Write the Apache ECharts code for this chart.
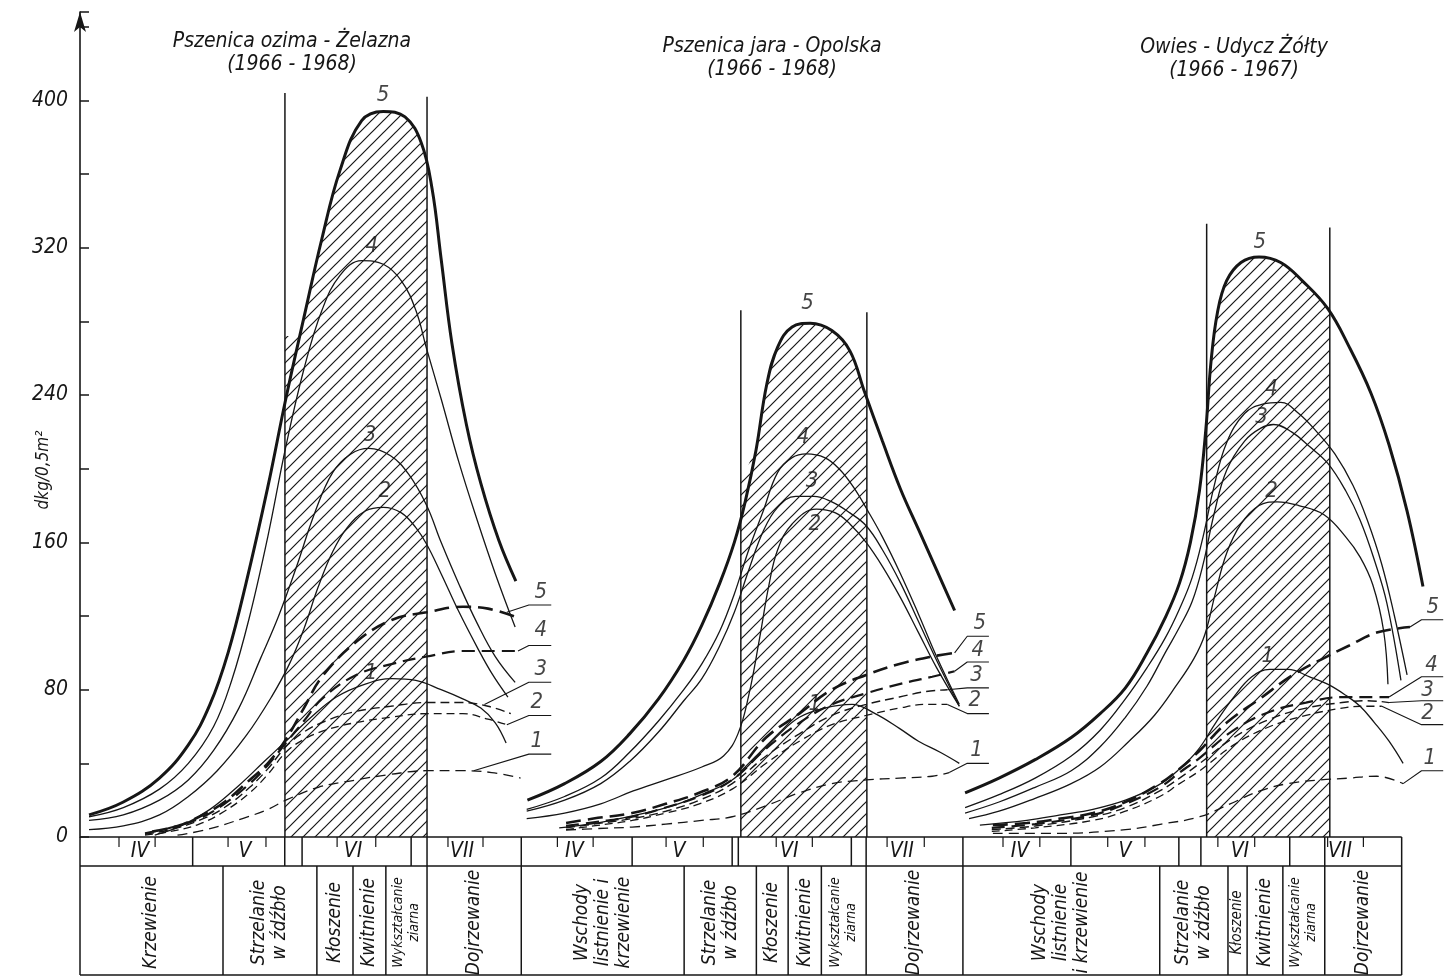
<!DOCTYPE html>
<html>
<head>
<meta charset="utf-8">
<script src="https://cdn.jsdelivr.net/npm/echarts@6/dist/echarts.min.js"></script>
<style>
html, body { margin: 0; padding: 0; background: #fff; }
#chart { width: 1450px; height: 977px; }
</style>
</head>
<body>
<div id="chart"></div>
<script>
// day axis: 1 = 1 April; each panel covers IV-VII and is shifted along one shared axis
const panelOffsets = [0, 122.2, 244.5]
const panelEnds = [122.2, 122.3, 121.5]
const tableEnd = 366

// ---- Pszenica ozima - Zelazna ----
const p1S5 = [[2.5,12],[12,19],[22,32],[30,50],[36,72],[41,100],[46,138],[52,190],[57,238],[62,282],[67,325],[72,362],[78,389],[84,394],[90,391],[94.5,377],[97.5,352],[100,314],[103,268],[107,224],[111,192],[116,161],[120.7,139]]
const p1S4 = [[2.5,11],[12,16],[22,26],[30,40],[37,60],[42,85],[47,120],[52,163],[57,212],[62,254],[67,286],[72,305],[78,313],[84,311],[89,302],[93,286],[96,265],[100,238],[105,203],[110,172],[115,143],[120.5,114]]
const p1S3 = [[2.5,9],[12,12],[22,20],[30,31],[37,47],[44,70],[50,97],[55,120],[60,147],[65,176],[70,198],[75,208],[80,211],[86,207],[91,197],[96,180],[100,160],[105,137],[110,116],[115,98],[120.5,84]]
const p1S2 = [[2.5,4],[12,6],[22,12],[30,22],[38,36],[46,55],[53,76],[58,94],[62,113],[66,136],[70,155],[74,168],[79,177],[84,179],[89,176],[93,168],[96,159],[100,143],[105,122],[110,103],[114,89],[118.5,76]]
const p1S1 = [[20.7,1],[28,6],[36,15],[44,28],[51,41],[57,52],[64,65],[71,76],[79,83],[86.5,86],[93,85],[100,80],[106,75],[111,70],[115,62],[118,51]]
const p1D5 = [[20,3],[27,6],[33,11],[40,19],[47,31],[52,40],[57,53],[62,70],[67,87],[76.5,106],[86.5,118],[96,122],[106,125],[113,124],[121.3,119]]
const p1D4 = [[18,2],[25,5],[33,10],[40,18],[47,29],[52,39],[57,51],[62,63],[67,75],[76.5,88],[86.5,94],[96,98],[106,101],[114,101],[121.3,101]]
const p1D3 = [[18,1.5],[25,4],[33,9],[40,16],[47,27],[52,37],[57,49],[62,57],[68,63],[76,68],[86,71],[96,73],[106,73],[113,71],[119.3,67]]
const p1D2 = [[18,1],[25,3],[33,7],[40,14],[47,24],[52,34],[57,46],[62,53],[68,58],[76,62],[86,65],[96,67],[106,67],[113,64],[118.2,61]]
const p1D1 = [[27,1],[35,4],[45,10],[52,15],[57,20],[66,27],[76.5,31],[86,34],[96,36],[106,36],[114,35],[122,32]]
const p1Hatch = [[56.75,272],[59.5,272],[62,282],[67,325],[72,362],[78,389],[84,394],[90,391],[94.5,377],[96.1,366]]
const p1Bounds = [[56.75,404],[96.1,402]]
const p1Labels = [[83.9,403,'5'],[80.8,321,'4'],[80.3,218,'3'],[84.4,188,'2'],[80.6,89,'1'],
  [127.6,133,'5'],[127.6,112,'4'],[127.6,91,'3'],[126.5,73,'2'],[126.5,52,'1']]
const p1Leaders = [[[118.2,122],[124.3,126],[130.5,126]],[[121.3,101],[124.3,104],[130.5,104]],
  [[112,72],[124.3,84],[130.5,84]],[[118.2,61],[124.3,66],[130.5,66]],[[109,36],[124.3,45],[130.5,45]]]

// ---- Pszenica jara - Opolska ----
const p2S5 = [[1.7,20],[12,29],[22,41],[30,56],[38,75],[45,96],[50,115],[55,138],[59,160],[62,182],[65,210],[68,246],[71,266],[75,277],[80,279],[86,275],[91,264],[95,242],[100,215],[105,189],[110,167],[115,145],[120,123]]
const p2S4 = [[1.5,15],[12,22],[22,32],[30,46],[38,63],[45,80],[50,94],[55,112],[59,132],[63,156],[67,177],[71,198],[75,206],[79,208],[84,206],[88,200],[92,190],[96,177],[100,163],[105,143],[110,121],[115,98],[121.3,72]]
const p2S3 = [[1.5,14],[12,20],[22,29],[30,41],[38,57],[45,74],[50,86],[55,104],[59,122],[63,145],[67,166],[71,179],[76,185],[81,185],[86,182],[91,176],[95.5,169],[100,156],[105,138],[110,117],[115,96],[121.3,71]]
const p2S2 = [[1.5,10],[12,13],[22,18],[31,25],[40,31],[50,38],[56,44],[60,56],[63,77],[66,108],[68.5,136],[71,156],[75,170],[81.7,178],[87,176],[91,170],[95.5,160],[100,147],[105,130],[110,111],[115,92],[121.3,71]]
const p2S1 = [[10.5,5],[22,8],[32,12],[42,17],[51,24],[58.4,31],[65,43],[71,55],[77,65],[84,70],[91.6,72],[98,67],[104.7,59],[110,52],[116,46],[121.3,40]]
const p2D5 = [[12.4,7.6],[20,10],[30.7,13],[40,18],[49.3,24],[58.4,33],[67.8,54],[77,67],[86,80],[95.5,88],[104.7,94],[113.8,98],[120,100]]
const p2D4 = [[12.4,6],[20,8],[30.7,11],[40,16],[49.3,22],[58.4,31],[67.8,48],[77,62],[86,72],[95.5,78],[104.7,83],[113.8,87],[120,90]]
const p2D3 = [[12.4,5],[20,7],[30.7,10],[40,14],[49.3,20],[58.4,29],[67.8,44],[77,56],[86,66],[95.5,72],[104.7,76],[112,79],[118,80]]
const p2D2 = [[12.4,4],[20,6],[30.7,9],[40,13],[49.3,18],[58.4,26],[67.8,40],[77,52],[86,61],[95.5,66],[104.7,70],[112,72],[118,72]]
const p2D1 = [[12.4,3.8],[20,4.5],[30.7,5.4],[40,7],[50,9],[58.4,11],[67.8,17],[77,24],[86,29],[95.5,31],[104.7,32],[113.8,33],[118.5,35]]
const p2Hatch = [[60.8,194],[65.5,215],[68,246],[71,266],[75,277],[80,279],[86,275],[91,264],[95,242],[95.7,238]]
const p2Bounds = [[60.8,286],[95.7,285]]
const p2Labels = [[79.3,290,'5'],[78,217,'4'],[80.5,193,'3'],[81.3,170,'2'],[81.3,72,'1'],
  [127,116,'5'],[126.4,101.6,'4'],[126.1,88,'3'],[125.6,74.3,'2'],[126.1,47,'1']]
const p2Leaders = [[[120,100],[123.5,109],[129.5,109]],[[120,90],[123.5,95],[129.5,95]],
  [[118,80],[123.5,81],[129.5,81]],[[118,72],[123.5,67],[129.5,67]],[[118.5,35],[123.5,40],[129.5,40]]]

// ---- Owies - Udycz ----
const p3S5 = [[0.6,24],[10,32],[20,42],[30,54],[38,67],[45,81],[51,100],[56,119],[60,138],[63,160],[65.5,188],[67.3,222],[68.7,258],[70.5,285],[73,302],[77,312],[82,315],[88,312],[94,302],[101,287],[107,266],[113,241],[118,213],[123,177],[127.4,136]]
const p3S4 = [[0.6,16],[10,23],[20,32],[30,44],[38,58],[45,75],[51,92],[56,108],[60,124],[63.5,141],[66.5,163],[69.5,190],[73,214],[78,230],[83,235],[88,236],[93,230],[98,220],[103,208],[108,191],[112,172],[116,148],[119.5,120],[123,88]]
const p3S3 = [[0.6,13],[10,19],[20,27],[30,36],[38,49],[45,65],[51,82],[56,100],[60,114],[63.5,128],[66.5,148],[69.5,175],[73,199],[78,215],[82.5,222],[86,224],[91,220],[96,212],[101,203],[106,188],[110,172],[114,150],[117.4,127],[121.3,85]]
const p3S2 = [[1.7,10],[10,14],[20,21],[30,29],[38,38],[46,52],[53,66],[59,82],[64,97],[67,110],[70,133],[73,154],[77,170],[82,180],[87,182],[93,180],[100,175],[106,163],[110,152],[113.5,137],[116.5,112],[117.7,83]]
const p3S1 = [[4.7,6.5],[17.7,9],[27,12],[36,15],[45,20],[54,28],[60,37],[65,47],[70,62],[75,76],[80,87],[85,91],[90,91],[96,87],[101,83],[106,77],[110,71],[114,62],[118,52],[121.9,40]]
const p3D5 = [[8.3,6.5],[17.7,7.6],[27,10],[36,13],[45,19],[54.5,29],[60,37],[65.6,47],[73,62],[82.2,75],[91.4,88],[100.8,98],[107,104],[114.6,111],[123.8,114]]
const p3D4 = [[8,5],[20,7],[36,12],[45,18],[54.5,27],[60,35],[65.6,43],[75,58],[85,68],[95,73],[105,76],[112,76],[118,76]]
const p3D3 = [[8,4],[20,6],[36,11],[45,16],[54.5,25],[60,32],[65.6,40],[75,54],[85,64],[95,70],[105,73],[112,74],[118,73]]
const p3D2 = [[8,3],[20,5],[36,9],[45,14],[54.5,22],[60,29],[65.6,36],[75,50],[85,60],[95,66],[105,70],[111,71],[116,71]]
const p3D1 = [[8.3,2],[26.9,2],[45,4],[55,7],[65.6,11],[74,18],[82.2,25],[90,29],[99,31],[107,32],[114.6,33],[121.9,29]]
const p3Hatch = [[67.5,226],[68.7,258],[70.5,285],[73,302],[77,312],[82,315],[88,312],[94,302],[101,287],[101.6,285]]
const p3Bounds = [[67.5,333],[101.6,331]]
const p3Labels = [[82.2,323,'5'],[85.5,243,'4'],[82.7,228,'3'],[85.5,188,'2'],[84.4,98,'1'],
  [130.1,125,'5'],[129.8,93.4,'4'],[128.7,79.8,'3'],[128.7,67.3,'2'],[129.3,42.9,'1']]
const p3Leaders = [[[123.8,114],[127,118],[133,118]],[[118,76],[127,87],[133,87]],
  [[118,73],[127,74],[133,74]],[[116,71],[127,61],[133,61]],[[121.9,29],[127,36],[133,36]]]

// titles and table of months / growth phases
const titles = ['Pszenica ozima - Żelazna\n(1966 - 1968)', 'Pszenica jara - Opolska\n(1966 - 1968)', 'Owies - Udycz Żółty\n(1966 - 1967)']
const monthNames = ['IV', 'V', 'VI', 'VII']
const monthPos = [[16.6,45.7,75.6,105.8],[14.7,43.7,74.2,105.4],[15.8,44.9,76.7,104.4]]
const monthLines = [[0,31.2,56.7,61.5,91.7,96.1],[0,30.7,58.4,60.1,91.4,95.5],[0,29.9,59.8,65.9,90.5,100.2]]
const monthTicks = [[10.8,20.8,41,51.5,71.2,81.9,101.9,111.6],[10,19.9,40.1,50.4,70.6,80.6,101.3,111.6],[11.1,21.3,40.1,50.4,70.6,80.8,101,110.9]]
const phaseLines = [[0,39.6,65.6,75.6,84.7,96.1],[0,45.1,65.1,73.9,83.1,95.5],[0,54.5,73.4,78.7,88.6,100.2]]
const phaseNames = [
  ['Krzewienie', 'Strzelanie\nw źdźbło', 'Kłoszenie', 'Kwitnienie', 'Wykształcanie\nziarna', 'Dojrzewanie'],
  ['Wschody\nlistnienie i\nkrzewienie', 'Strzelanie\nw źdźbło', 'Kłoszenie', 'Kwitnienie', 'Wykształcanie\nziarna', 'Dojrzewanie'],
  ['Wschody\nlistnienie\ni krzewienie', 'Strzelanie\nw źdźbło', 'Kłoszenie', 'Kwitnienie', 'Wykształcanie\nziarna', 'Dojrzewanie']
]

const panels = [
  { solid: [p1S1, p1S2, p1S3, p1S4, p1S5], dashed: [p1D1, p1D2, p1D3, p1D4, p1D5], hatch: p1Hatch, bounds: p1Bounds, labels: p1Labels, leaders: p1Leaders },
  { solid: [p2S1, p2S2, p2S3, p2S4, p2S5], dashed: [p2D1, p2D2, p2D3, p2D4, p2D5], hatch: p2Hatch, bounds: p2Bounds, labels: p2Labels, leaders: p2Leaders },
  { solid: [p3S1, p3S2, p3S3, p3S4, p3S5], dashed: [p3D1, p3D2, p3D3, p3D4, p3D5], hatch: p3Hatch, bounds: p3Bounds, labels: p3Labels, leaders: p3Leaders }
]

const ink = '#161616'
const FONT = '"Liberation Sans Narrow", "DejaVu Sans Condensed", "Liberation Sans", sans-serif'
const SMOOTH = 0.4
const solidWidths = [1.3, 1.3, 1.3, 1.3, 3]
const dashedStyles = [
  { width: 1.3, type: [10, 6] },
  { width: 1.3, type: [8, 5] },
  { width: 1.4, type: [9, 5] },
  { width: 2.2, type: [13, 7] },
  { width: 2.6, type: [15, 7] }
]

// diagonal hatching pattern
function hatchPattern() {
  const c = document.createElement('canvas')
  c.width = 12; c.height = 12
  const g = c.getContext('2d')
  g.strokeStyle = ink
  g.lineWidth = 1.2
  g.beginPath()
  g.moveTo(-1, 13); g.lineTo(13, -1)
  g.moveTo(-7, 7); g.lineTo(7, -7)
  g.moveTo(5, 19); g.lineTo(19, 5)
  g.stroke()
  return { image: c, repeat: 'repeat' }
}

const shift = (arr, off) => arr.map(p => [p[0] + off, p[1]])

function genSeries() {
  const result = []
  const pattern = hatchPattern()
  panels.forEach((pn, i) => {
    const off = panelOffsets[i]
    result.push({
      type: 'line', data: shift(pn.hatch, off), smooth: SMOOTH,
      symbol: 'none', lineStyle: { width: 0 }, areaStyle: { color: pattern, opacity: 1 }, z: 1, silent: true
    })
    pn.bounds.forEach(b => {
      result.push({
        type: 'line', data: [[b[0] + off, 0], [b[0] + off, b[1]]], symbol: 'none',
        lineStyle: { color: ink, width: 1.5 }, z: 2, silent: true
      })
    })
    pn.dashed.forEach((d, k) => {
      result.push({
        type: 'line', data: shift(d, off), smooth: SMOOTH, symbol: 'none',
        lineStyle: { color: ink, width: dashedStyles[k].width, type: dashedStyles[k].type }, z: 3, silent: true
      })
    })
    pn.solid.forEach((d, k) => {
      result.push({
        type: 'line', data: shift(d, off), smooth: SMOOTH, symbol: 'none',
        lineStyle: { color: ink, width: solidWidths[k] }, z: 4, silent: true
      })
    })
    pn.leaders.forEach(l => {
      result.push({
        type: 'line', data: shift(l, off), symbol: 'none',
        lineStyle: { color: ink, width: 1.1 }, z: 4, silent: true
      })
    })
    result.push({
      type: 'scatter', data: pn.labels.map(l => [l[0] + off, l[1], l[2]]), symbolSize: 1,
      itemStyle: { color: 'rgba(0,0,0,0)' }, z: 5, silent: true,
      label: {
        show: true, position: 'inside', formatter: p => p.value[2], color: ink,
        fontFamily: FONT, fontStyle: 'italic', fontSize: 22
      }
    })
  })
  return result
}

const chart = echarts.init(document.getElementById('chart'))
chart.setOption({
  backgroundColor: '#fff',
  animation: false,
  grid: { left: 80, right: 5, top: 12, bottom: 140 },
  xAxis: {
    type: 'value', min: 0, max: 378,
    axisLine: { show: false }, axisTick: { show: false }, axisLabel: { show: false }, splitLine: { show: false }
  },
  yAxis: {
    type: 'value', min: 0, max: 448, interval: 40,
    axisLine: { show: true, symbol: ['none', 'arrow'], symbolSize: [9, 20], lineStyle: { color: ink, width: 1.6 } },
    axisTick: { show: true, inside: true, length: 9, lineStyle: { color: ink, width: 1.5 } },
    axisLabel: {
      margin: 12, color: ink, fontFamily: FONT, fontStyle: 'italic', fontSize: 21,
      formatter: v => (v % 80 === 0 && v <= 400 ? String(v) : '')
    },
    splitLine: { show: false }
  },
  series: genSeries()
})

// table below the plot and the titles, placed through the axis scale
const px = d => chart.convertToPixel({ xAxisIndex: 0 }, d)
const y0 = chart.convertToPixel({ yAxisIndex: 0 }, 0)
const y1 = y0 + 29
const y2 = y0 + 138
const gr = []
const line = (x1, ya, x2, yb, w) => gr.push({ type: 'line', shape: { x1, y1: ya, x2, y2: yb }, style: { stroke: ink, lineWidth: w || 1.5 }, z: 10 })
const text = (t, x, y, size, rot, lh) => gr.push({
  type: 'text', x, y, rotation: rot || 0, z: 10,
  style: { text: t, font: 'italic ' + size + 'px ' + FONT, fill: ink, align: 'center', verticalAlign: 'middle', textAlign: 'center', textVerticalAlign: 'middle', lineHeight: lh || size + 2 }
})

const xl = px(0), xr = px(tableEnd)
line(xl, y0, xr, y0)
line(xl, y1, xr, y1)
line(xl, y2, xr, y2)
line(xr, y0, xr, y2)
panels.forEach((pn, i) => {
  const off = panelOffsets[i]
  monthLines[i].forEach(d => line(px(d + off), y0, px(d + off), y1))
  monthTicks[i].forEach(d => line(px(d + off), y0, px(d + off), y0 + 10, 1.2))
  monthNames.forEach((m, k) => text(m, px(monthPos[i][k] + off), y0 + 15, 21))
  const pl = phaseLines[i]
  pl.forEach(d => line(px(d + off), y1, px(d + off), y2))
  phaseNames[i].forEach((name, k) => {
    const a = pl[k], b = k + 1 < pl.length ? pl[k + 1] : panelEnds[i]
    const w = px(b) - px(a)
    let size = 19
    if (name.indexOf('Wykształcanie') === 0) size = 14
    else if (w < 25) size = 15
    text(name, px((a + b) / 2 + off), (y1 + y2) / 2 + 2, size, Math.PI / 2, size + 2)
  })
})
const titlePos = [[292, 53], [772, 58], [1234, 59]]
titles.forEach((t, i) => text(t, titlePos[i][0], titlePos[i][1], 21, 0, 23))
text('dkg/0,5m²', 44, 470, 17, Math.PI / 2)

chart.setOption({ graphic: gr })
</script>
</body>
</html>
